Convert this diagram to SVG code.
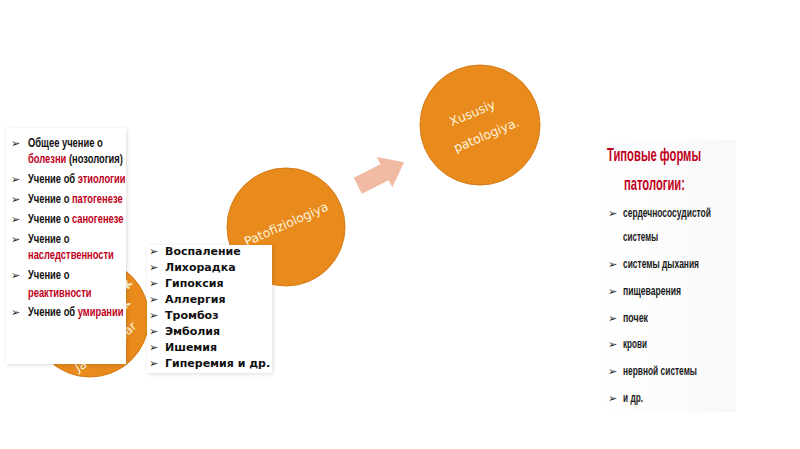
<svg xmlns="http://www.w3.org/2000/svg" width="800" height="449" viewBox="0 0 800 449">
<defs>
<style>
.circ{fill:#E98A1C;stroke:#D57B16;stroke-width:1}
.ctext{fill:#FFF3DC;font-family:"DejaVu Sans","Liberation Sans",sans-serif;font-size:12.5px}
.panel{fill:#FFFFFF}
.lt{font-family:"Liberation Sans","Arial",sans-serif;font-weight:bold;font-size:13px;fill:#111}
.red{fill:#C0001A}
.bul{font-family:"DejaVu Sans",sans-serif;font-size:11px;fill:#222}
.mt{font-family:"DejaVu Sans","Verdana",sans-serif;font-weight:bold;font-size:11px;fill:#111}
.rt{font-family:"Liberation Sans","Arial",sans-serif;font-weight:bold;font-size:13.5px;fill:#1a1a1a}
.title{font-family:"Liberation Sans","Arial",sans-serif;font-weight:bold;font-size:19px;fill:#C0001A}
</style>
<filter id="sh" x="-10%" y="-10%" width="120%" height="120%">
<feGaussianBlur in="SourceAlpha" stdDeviation="2"/>
<feOffset dx="1" dy="1" result="b"/>
<feComponentTransfer><feFuncA type="linear" slope="0.15"/></feComponentTransfer>
<feMerge><feMergeNode/><feMergeNode in="SourceGraphic"/></feMerge>
</filter>
<linearGradient id="rg" x1="0" y1="0" x2="1" y2="0">
<stop offset="0" stop-color="#FFFFFF"/>
<stop offset="1" stop-color="#F8F8F8"/>
</linearGradient>
</defs>
<rect width="800" height="449" fill="#FFFFFF"/>

<g id="connectors">
<g transform="translate(381,174) rotate(-27)">
<polygon points="-26,-9 4,-9 4,-17 26,0 4,17 4,9 -26,9" fill="#F0BBA2"/>
</g>
</g>

<g id="node-circle1">
<circle class="circ" cx="90" cy="318" r="59"/>
<text class="ctext" transform="translate(128,290) rotate(-55)" font-weight="bold">k</text>
<text class="ctext" transform="translate(126,310) rotate(-55)" font-weight="bold">k</text>
<text class="ctext" transform="translate(125,338) rotate(-40)">lar</text>
<text class="ctext" transform="translate(78,372) rotate(-30)">Ja</text>
</g>

<g id="node-patofiziologiya">
<circle class="circ" cx="286" cy="227" r="59"/>
<text class="ctext" transform="translate(288,228) rotate(-24)" text-anchor="middle">Patofiziologiya</text>
</g>

<g id="node-xususiy">
<circle class="circ" cx="480" cy="125" r="60"/>
<text class="ctext" transform="translate(474,117) rotate(-23)" text-anchor="middle">Xususiy</text>
<text class="ctext" transform="translate(488,139) rotate(-23)" text-anchor="middle">patologiya.</text>
</g>

<g id="node-left-list">
<rect class="panel" x="6" y="128" width="120" height="236" filter="url(#sh)"/>
<text class="bul" x="11" y="147">➢</text>
<text class="lt" transform="translate(28,147) scale(0.72,1)">Общее учение о</text>
<text class="lt" transform="translate(28,163) scale(0.72,1)"><tspan class="red">болезни</tspan> (нозология)</text>
<text class="bul" x="11" y="183">➢</text>
<text class="lt" transform="translate(28,183) scale(0.72,1)">Учение об <tspan class="red">этиологии</tspan></text>
<text class="bul" x="11" y="203">➢</text>
<text class="lt" transform="translate(28,203) scale(0.72,1)">Учение о <tspan class="red">патогенезе</tspan></text>
<text class="bul" x="11" y="223">➢</text>
<text class="lt" transform="translate(28,223) scale(0.72,1)">Учение о <tspan class="red">саногенезе</tspan></text>
<text class="bul" x="11" y="243">➢</text>
<text class="lt" transform="translate(28,243) scale(0.72,1)">Учение о</text>
<text class="lt red" transform="translate(28,259) scale(0.72,1)">наследственности</text>
<text class="bul" x="11" y="279">➢</text>
<text class="lt" transform="translate(28,279) scale(0.72,1)">Учение о</text>
<text class="lt red" transform="translate(28,297) scale(0.72,1)">реактивности</text>
<text class="bul" x="11" y="316">➢</text>
<text class="lt" transform="translate(28,316) scale(0.72,1)">Учение об <tspan class="red">умирании</tspan></text>
</g>

<g id="node-mid-list">
<rect class="panel" x="147" y="245" width="125" height="128" filter="url(#sh)"/>
<text class="bul" x="149" y="255">➢</text><text class="mt" x="165" y="255">Воспаление</text>
<text class="bul" x="149" y="271">➢</text><text class="mt" x="165" y="271">Лихорадка</text>
<text class="bul" x="149" y="287">➢</text><text class="mt" x="165" y="287">Гипоксия</text>
<text class="bul" x="149" y="303">➢</text><text class="mt" x="165" y="303">Аллергия</text>
<text class="bul" x="149" y="319">➢</text><text class="mt" x="165" y="319">Тромбоз</text>
<text class="bul" x="149" y="335">➢</text><text class="mt" x="165" y="335">Эмболия</text>
<text class="bul" x="149" y="351">➢</text><text class="mt" x="165" y="351">Ишемия</text>
<text class="bul" x="149" y="367">➢</text><text class="mt" x="165" y="367">Гиперемия и др.</text>
</g>

<g id="node-right-list">
<rect x="600" y="140" width="136" height="272" fill="url(#rg)"/>
<text class="title" x="607" y="161" textLength="94" lengthAdjust="spacingAndGlyphs">Типовые формы</text>
<text class="title" x="624" y="190" textLength="61" lengthAdjust="spacingAndGlyphs">патологии:</text>
<text class="bul" x="608" y="217" fill="#8A1020">➢</text>
<text class="rt" x="623" y="217" textLength="88" lengthAdjust="spacingAndGlyphs">сердечнососудистой</text>
<text class="rt" x="623" y="241" textLength="35" lengthAdjust="spacingAndGlyphs">системы</text>
<text class="bul" x="608" y="268" fill="#8A1020">➢</text>
<text class="rt" x="623" y="268" textLength="76" lengthAdjust="spacingAndGlyphs">системы дыхания</text>
<text class="bul" x="608" y="295" fill="#8A1020">➢</text>
<text class="rt" x="623" y="295" textLength="58" lengthAdjust="spacingAndGlyphs">пищеварения</text>
<text class="bul" x="608" y="322" fill="#8A1020">➢</text>
<text class="rt" x="623" y="322" textLength="25" lengthAdjust="spacingAndGlyphs">почек</text>
<text class="bul" x="608" y="348" fill="#8A1020">➢</text>
<text class="rt" x="623" y="348" textLength="24" lengthAdjust="spacingAndGlyphs">крови</text>
<text class="bul" x="608" y="375" fill="#C0001A">➢</text>
<text class="rt" x="623" y="375" textLength="74" lengthAdjust="spacingAndGlyphs">нервной системы</text>
<text class="bul" x="608" y="402" fill="#8A1020">➢</text>
<text class="rt" x="623" y="402" textLength="20" lengthAdjust="spacingAndGlyphs">и др.</text>
</g>
</svg>
